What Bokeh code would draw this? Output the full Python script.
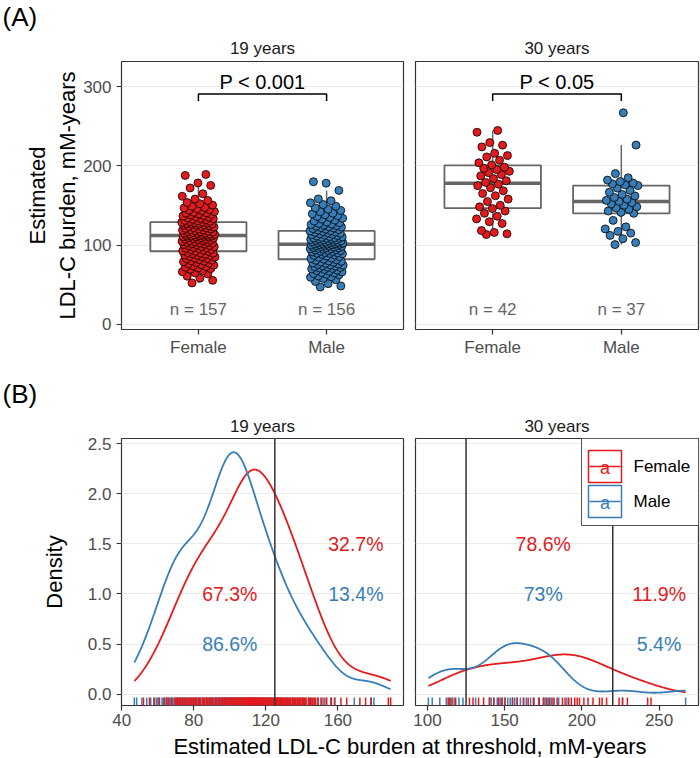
import numpy as np
from bokeh.plotting import figure
from bokeh.layouts import column, row
from bokeh.models import (Label, Span, FixedTicker, Range1d, BoxAnnotation,
                          Grid, NumeralTickFormatter)
from bokeh.embed import file_html
from bokeh.resources import INLINE
from bokeh.core.properties import value

FONT = "Liberation Sans"
RED = "#E41A1C"
BLUE = "#377EB8"

# ---------------- data ----------------
age_groups = ["19 years", "30 years"]
sexes = ["Female", "Male"]

female_19 = [52.1, 55.4, 58.2,
             60.7, 63.5, 64.9, 66.2, 67.8, 69.4,
             70.3, 71.1, 72.0, 72.8, 73.7, 74.6, 75.4, 76.3, 77.2, 78.0, 78.9, 79.7,
             80.2, 80.9, 81.7, 82.8, 83.1, 83.6, 84.9, 85.3, 85.8, 86.9, 87.2, 87.4, 88.5, 89.0, 89.8,
             90.1, 90.6, 91.9, 92.2, 92.7, 93.8, 94.3, 94.4, 95.6, 96.1, 96.7, 97.2, 97.9, 98.3, 99.0, 99.6,
             100.4, 100.7, 101.2, 101.8, 102.5, 102.6, 103.3, 103.9, 104.2, 104.8,
             105.5, 105.6, 106.1, 106.9, 107.4, 107.5, 108.3, 108.8, 109.2, 109.7,
             110.1, 110.5, 110.8, 111.1, 111.3, 111.6, 112.0, 112.2, 112.6, 112.9,
             113.4, 113.5, 113.8, 114.1, 114.7, 115.0, 115.4, 115.9, 116.3, 116.8,
             117.2, 117.6, 118.1, 118.7, 119.2, 119.5,
             120.3, 120.4, 121.1, 121.8, 122.0, 122.7, 123.2, 123.6, 124.4,
             125.2, 125.4, 125.8, 126.3, 126.6, 127.1, 127.3, 127.9, 128.2, 128.7, 129.1, 129.6,
             130.0, 130.7, 131.2, 131.9, 132.4, 133.3, 133.7, 134.6, 135.3, 135.9,
             136.6, 137.4, 138.1, 138.7, 139.4,
             140.4, 140.8, 141.5, 142.3, 143.6, 144.2, 144.9, 146.0, 146.8, 147.7, 148.9,
             150.6, 152.3, 153.8, 156.4, 158.1,
             161.7, 164.9,
             172.2, 175.4, 178.5,
             188.0, 189.3]

male_19 = [47.0, 48.3,
           51.2, 53.9, 56.1, 57.8, 59.3,
           60.1, 61.0, 62.4, 63.2, 64.0, 64.9, 65.3, 66.1, 67.0, 67.8, 68.4, 69.2,
           70.0, 70.5, 71.1, 71.7, 72.2, 72.8, 73.4, 73.9, 74.5, 75.0,
           75.6, 76.2, 76.9, 77.5, 78.2, 78.8, 79.5,
           80.1, 80.8, 81.5, 82.3, 83.0, 83.8, 84.6, 85.3, 86.1, 86.9, 87.6, 88.3, 88.9, 89.4, 89.8,
           90.2, 90.7, 91.3, 91.9, 92.4, 92.9, 93.4, 93.9, 94.3, 94.8,
           95.2, 95.6, 96.0, 96.4, 96.8, 97.2, 97.6, 98.0, 98.4, 98.8, 99.2, 99.5, 99.8,
           100.1, 100.4, 100.7, 101.0, 101.3, 101.6, 101.9, 102.2, 102.5, 102.9,
           103.2, 103.5, 103.9, 104.2, 104.6, 104.9, 105.3, 105.7, 106.0, 106.4,
           106.8, 107.2, 107.6, 108.0, 108.4, 108.7, 109.1, 109.4, 109.8,
           110.3, 110.9, 111.4, 112.0, 112.6, 113.1, 113.7, 114.3, 114.9, 115.5,
           116.0, 116.6, 117.2, 117.8, 118.4, 119.0, 119.6,
           120.3, 120.9, 121.6, 122.2, 122.8, 123.3, 123.9, 124.5,
           125.3, 126.1, 126.7, 127.4, 128.2, 129.1,
           130.4, 131.6, 132.8, 133.9, 135.0, 136.2, 137.3, 138.4, 139.5,
           140.3, 142.1, 143.8, 145.2, 147.0, 149.1,
           151.2, 153.4, 156.0, 158.3,
           169.1,
           178.2, 180.0]

female_30 = [113.4, 114.2, 116.0, 118.3, 127.2, 129.5, 133.1, 136.4, 140.2, 143.0,
             146.1, 148.3, 150.2, 155.0, 158.1, 162.3, 165.2, 168.6, 172.4, 175.1,
             177.0, 179.2, 181.3, 184.0, 187.4, 189.1, 191.5, 193.2, 195.4, 197.0,
             198.5, 201.3, 204.0, 207.2, 211.4, 213.1, 216.0, 224.1, 226.3, 229.5,
             242.6, 244.8]

male_30 = [100.6, 103.1, 108.0, 112.2, 115.1, 117.3, 120.4, 123.0, 131.2, 140.1,
           141.3, 143.0, 145.2, 147.1, 148.4, 150.3, 152.0, 153.6, 155.2, 156.5,
           158.0, 160.2, 162.1, 164.0, 166.8, 169.1, 172.0, 175.2, 176.1, 177.4,
           178.3, 180.2, 182.1, 185.0, 190.3, 226.4, 267.2]

p_value_text = ["P < 0.001", "P < 0.05"]
thresholds = {"19 years": [125], "30 years": [125, 220]}
pct_text = {"19 years": ["67.3%", "86.6%", "32.7%", "13.4%"],
            "30 years": ["78.6%", "73%", "11.9%", "5.4%"]}
pct_sex = ["Female", "Male", "Female", "Male"]

# ---------------- annotation placement (layout, not data) ----------------
pct_pos_x = {"19 years": [100, 100, 170, 170], "30 years": [175, 175, 250, 250]}
pct_pos_y = {"19 years": [1.0, 0.5, 1.5, 1.0], "30 years": [1.5, 1.0, 1.0, 0.5]}
BRACKET_Y, BRACKET_TIP, PTEXT_Y, NLABEL_Y = 291, 282, 306, 18
A_YRANGE = (-6.7, 332)
B_YRANGE = (-0.113, 2.55)

COLORS = {"Female": RED, "Male": BLUE}
DATA = {"19 years": {"Female": female_19, "Male": male_19},
        "30 years": {"Female": female_30, "Male": male_30}}

TOTAL_W = 700
LEFT_B = 121
W1, W2 = 282, 283
GAP = 6
A_FH, B_FH = 268, 267
STRIP_A_H, STRIP_B_H, XT_H = 32, 46, 26


def style_axes(p):
    for ax in p.axis:
        ax.axis_line_color = None
        ax.major_tick_line_color = "#333333"
        ax.major_tick_line_width = 1.2
        ax.major_tick_out = 5
        ax.major_tick_in = 0
        ax.minor_tick_line_color = None
        ax.major_label_text_font = FONT
        ax.major_label_text_font_size = "17px"
        ax.major_label_text_color = "#4D4D4D"
        ax.major_label_standoff = 3
        ax.axis_label_text_font = FONT
        ax.axis_label_text_font_size = "22px"
        ax.axis_label_text_font_style = "normal"
        ax.axis_label_text_color = "black"
    for ax in p.yaxis:
        ax.major_label_standoff = 5


def base_fig(fw, fh, xr, yr, show_y, mbl, mbr, mbt, mbb, title, yticks, standoff):
    p = figure(frame_width=fw, frame_height=fh, x_range=Range1d(*xr), y_range=Range1d(*yr),
               output_backend="svg", toolbar_location=None, tools="",
               y_axis_location="left" if show_y else None,
               min_border_left=mbl, min_border_right=mbr,
               min_border_top=mbt, min_border_bottom=mbb, title=title)
    p.outline_line_color = "#333333"
    p.outline_line_width = 1.2
    p.background_fill_color = "white"
    p.border_fill_color = "white"
    for g in p.xgrid + p.ygrid:
        g.visible = False
    p.add_layout(Grid(dimension=1, ticker=FixedTicker(ticks=yticks),
                      grid_line_color="#EBEBEB", grid_line_width=1.2))
    p.title.align = "center"
    p.title.text_font = FONT
    p.title.text_font_size = "17px"
    p.title.text_font_style = "normal"
    p.title.text_color = "#1A1A1A"
    p.title.standoff = standoff
    if show_y:
        p.yaxis.ticker = FixedTicker(ticks=yticks)
    style_axes(p)
    return p


def strip_fig(height, text, x, y, size, align="left"):
    s = figure(frame_width=TOTAL_W, frame_height=height, x_range=Range1d(0, 1),
               y_range=Range1d(0, 1), output_backend="svg", toolbar_location=None, tools="",
               x_axis_location=None, y_axis_location=None,
               min_border_left=0, min_border_right=0, min_border_top=0, min_border_bottom=0)
    s.outline_line_color = None
    s.xgrid.visible = False
    s.ygrid.visible = False
    s.add_layout(Label(x=x, y=y, x_units="screen", y_units="screen", text=text,
                       text_font=FONT, text_font_size=size, text_color="black",
                       text_align=align, text_baseline="middle"))
    return s


def box_stats(v):
    v = np.sort(np.asarray(v, float))
    q1, med, q3 = np.percentile(v, [25, 50, 75])
    iqr = q3 - q1
    lo = v[v >= q1 - 1.5 * iqr].min()
    hi = v[v <= q3 + 1.5 * iqr].max()
    return q1, med, q3, lo, hi


def jitter_offsets(n, width=0.13):
    # deterministic display jitter (low-discrepancy sequence), not data
    phi = 0.6180339887498949
    return np.array([width * (2 * ((k * phi + 0.31) % 1.0) - 1) for k in range(n)])


def panel_a(age, ptext, fw, show_y, mbl, mbr):
    p = base_fig(fw, A_FH, (0.4, 2.6), A_YRANGE, show_y, mbl, mbr,
                 59 - STRIP_A_H, 33, age, [0, 100, 200, 300], 8)
    p.xaxis.ticker = FixedTicker(ticks=[1, 2])
    p.xaxis.major_label_overrides = {1: sexes[0], 2: sexes[1]}
    for i, sex in enumerate(sexes, start=1):
        vals = np.asarray(DATA[age][sex], float)
        q1, med, q3, lo, hi = box_stats(vals)
        p.segment(x0=[i, i], y0=[q3, q1], x1=[i, i], y1=[hi, lo],
                  line_color="#666666", line_width=1.5)
        p.quad(left=[i - 0.375], right=[i + 0.375], bottom=[q1], top=[q3],
               fill_color="white", line_color="#666666", line_width=1.8)
        p.segment(x0=[i - 0.375], y0=[med], x1=[i + 0.375], y1=[med],
                  line_color="#666666", line_width=3.5)
    for i, sex in enumerate(sexes, start=1):
        vals = np.asarray(DATA[age][sex], float)
        xs = i + jitter_offsets(len(vals))
        p.scatter(xs, vals, size=8, fill_color=COLORS[sex], line_color="black",
                  line_width=0.8)
    p.text(x=[1, 2], y=[NLABEL_Y, NLABEL_Y],
           text=[f"n = {len(DATA[age][s])}" for s in sexes],
           text_font=value(FONT), text_font_size="17px", text_color="#666666",
           text_align="center", text_baseline="middle")
    p.line(x=[1, 1, 2, 2], y=[BRACKET_TIP, BRACKET_Y, BRACKET_Y, BRACKET_TIP],
           line_color="black", line_width=1.5)
    p.text(x=[1.5], y=[PTEXT_Y], text=[ptext], text_font=value(FONT),
           text_font_size="20px", text_color="black", text_align="center",
           text_baseline="middle")
    if show_y:
        p.yaxis.axis_label = "Estimated\nLDL-C burden, mM-years"
        p.yaxis.axis_label_standoff = 0
    return p


def kde_scaled(vals, grid):
    v = np.asarray(vals, float)
    n = len(v)
    sd = v.std(ddof=1)
    q75, q25 = np.percentile(v, [75, 25])
    bw = 0.9 * min(sd, (q75 - q25) / 1.34) * n ** -0.2
    z = (grid[:, None] - v[None, :]) / bw
    return np.exp(-0.5 * z ** 2).sum(axis=1) / (bw * np.sqrt(2 * np.pi))


def panel_b(age, fw, show_y, mbl, mbr, xticks, legend=False):
    allv = np.concatenate([DATA[age][s] for s in sexes])
    lo, hi = allv.min(), allv.max()
    pad = 0.05 * (hi - lo)
    p = base_fig(fw, B_FH, (lo - pad, hi + pad), B_YRANGE, show_y, mbl, mbr,
                 436 - 360 - STRIP_B_H, 28, age, [0, 0.5, 1, 1.5, 2, 2.5], 6)
    p.xaxis.ticker = FixedTicker(ticks=xticks)
    if show_y:
        p.yaxis.formatter = NumeralTickFormatter(format="0.0")
        p.yaxis.axis_label = "Density"
        p.yaxis.axis_label_standoff = 18
    grid = np.linspace(lo, hi, 512)
    rug_top = B_YRANGE[0] + 0.03 * (B_YRANGE[1] - B_YRANGE[0])
    for sex in reversed(sexes):
        vals = np.asarray(DATA[age][sex], float)
        p.segment(x0=vals, y0=np.full(len(vals), B_YRANGE[0]), x1=vals,
                  y1=np.full(len(vals), rug_top), line_color=COLORS[sex], line_width=1.5)
    for sex in sexes:
        p.line(grid, kde_scaled(DATA[age][sex], grid), line_color=COLORS[sex], line_width=1.8)
    for t in thresholds[age]:
        p.add_layout(Span(location=t, dimension="height", line_color="#333333",
                          line_width=1.5))
    for txt, sex, x, y in zip(pct_text[age], pct_sex, pct_pos_x[age], pct_pos_y[age]):
        p.add_layout(Label(x=x, y=y, text=txt, text_font=FONT, text_font_size="19.5px",
                           text_color=COLORS[sex], text_align="center",
                           text_baseline="middle"))
    if legend:
        W, H = fw, B_FH
        L, T, R, B = W - 117, H, W, H - 87
        p.add_layout(BoxAnnotation(left=L, right=R, top=T, bottom=B,
                                   left_units="screen", right_units="screen",
                                   top_units="screen", bottom_units="screen",
                                   fill_color="white", fill_alpha=1.0,
                                   line_color="#555555", line_alpha=1.0, line_width=1))
        for k, sex in enumerate(sexes):
            kt = H - 12 - k * 35
            kb = kt - 32
            cy = (kt + kb) / 2
            p.add_layout(BoxAnnotation(left=L + 7, right=L + 40, top=kt, bottom=kb,
                                       left_units="screen", right_units="screen",
                                       top_units="screen", bottom_units="screen",
                                       fill_color="white", fill_alpha=1.0,
                                       line_color=COLORS[sex], line_alpha=1.0,
                                       line_width=1.5))
            p.add_layout(BoxAnnotation(left=L + 8, right=L + 39, top=cy + 0.8,
                                       bottom=cy - 0.8,
                                       left_units="screen", right_units="screen",
                                       top_units="screen", bottom_units="screen",
                                       fill_color=COLORS[sex], fill_alpha=1.0,
                                       line_color=None))
            p.add_layout(Label(x=L + 23.5, y=cy - 1, x_units="screen", y_units="screen",
                               text="a", text_font=FONT, text_font_size="18px",
                               text_color=COLORS[sex], text_align="center",
                               text_baseline="middle"))
            p.add_layout(Label(x=L + 52, y=cy, x_units="screen", y_units="screen",
                               text=sex, text_font=FONT, text_font_size="17px",
                               text_color="black", text_align="left",
                               text_baseline="middle"))
    return p


R_BORDER = TOTAL_W - (LEFT_B + W1 + GAP + GAP + W2)
a1 = panel_a(age_groups[0], p_value_text[0], W1, True, LEFT_B, GAP)
a2 = panel_a(age_groups[1], p_value_text[1], W2, False, GAP, R_BORDER)
b1 = panel_b(age_groups[0], W1, True, LEFT_B, GAP, [40, 80, 120, 160])
b2 = panel_b(age_groups[1], W2, False, GAP, R_BORDER, [100, 150, 200, 250], legend=True)

strip_a = strip_fig(STRIP_A_H, "(A)", 2, STRIP_A_H - 16.5, "26px")
strip_b = strip_fig(STRIP_B_H, "(B)", 2, STRIP_B_H - (391 - 360), "26px")
xtitle = strip_fig(XT_H, "Estimated LDL-C burden at threshold, mM-years",
                   LEFT_B + (W1 + 2 * GAP + W2) / 2, XT_H - 13, "22px", align="center")

layout = column(strip_a, row(a1, a2), strip_b, row(b1, b2), xtitle)
open("out.html", "w").write(file_html(layout, INLINE))
print([len(DATA[a][s]) for a in age_groups for s in sexes])
